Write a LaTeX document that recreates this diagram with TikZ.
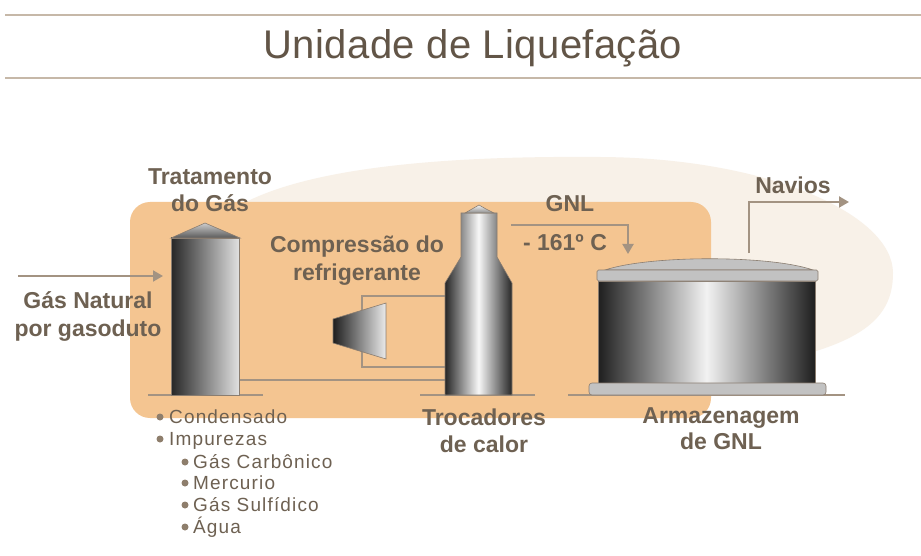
\documentclass[tikz,border=0pt]{standalone}
\usepackage{fontspec}
\setmainfont{Liberation Sans}
\usetikzlibrary{arrows.meta}

\definecolor{txt}{HTML}{6E6152}
\definecolor{titletxt}{HTML}{625547}
\definecolor{rule}{HTML}{C6B8A8}
\definecolor{pipe}{HTML}{A39382}
\definecolor{peach}{HTML}{F4C591}
\definecolor{cream}{HTML}{F8F1E8}
\definecolor{dot}{HTML}{8E7E6C}
\definecolor{rim}{HTML}{8A7D70}
\definecolor{steel}{HTML}{C2C2C2}

\begin{document}
\begin{tikzpicture}[x=1pt,y=-1pt,
  lbl/.style={inner sep=0pt, anchor=base, text=txt,
    font=\bfseries\fontsize{23}{28}\selectfont},
  item/.style={inner sep=0pt, anchor=base west, text=txt,
    font=\addfontfeature{LetterSpace=6}\fontsize{19}{22}\selectfont},
  bullet/.style={circle, fill=dot, inner sep=0pt, minimum size=7pt},
  flow/.style={draw=pipe, line width=2pt,
    -{Triangle[length=10pt,width=11pt]}},
  pipeline/.style={draw=pipe, line width=1.2pt},
  groundline/.style={draw=pipe, line width=1.5pt},
  metal/.style={draw=rim, line width=0.6pt}]

% page and background
\useasboundingbox (0,0) rectangle (921,556);
\fill[white] (0,0) rectangle (921,556);

% title with rules
\draw[rule, line width=2pt] (5,15) -- (921,15);
\draw[rule, line width=2pt] (5,78) -- (921,78);
\node[inner sep=0pt, anchor=base, text=titletxt,
  font=\addfontfeature{LetterSpace=1}\fontsize{40}{44}\selectfont]
  (title) at (473,59) {Unidade de Liquefação};

% cream backdrop
\fill[cream] (893,273) .. controls (893,215) and (770,158) .. (600,157)
  .. controls (480,156) and (330,162) .. (250,200)
  -- (200,230) -- (200,400) -- (700,400) -- (760,365)
  .. controls (860,345) and (893,320) .. (893,273) -- cycle;

% plant area
\fill[peach, rounded corners=20pt] (130,202) rectangle (711,418);

% ground lines
\draw[groundline] (148,395) -- (263,395);
\draw[groundline] (420,395) -- (535,395);
\draw[groundline] (568,395) -- (845,395);

% piping
\coordinate (ttR) at (239,380);
\coordinate (hxL) at (446,380);
\draw[pipeline] (ttR) -- (hxL);
\coordinate (loopA) at (446,296);
\coordinate (loopB) at (362,296);
\coordinate (loopC) at (362,367);
\coordinate (loopD) at (446,367);
\draw[pipeline] (loopA) -- (loopB) -- (loopC) -- (loopD);

% gas treatment column
\shade[left color=black!85, right color=black!12, metal]
  (171,238) rectangle (239,395);
\shade[top color=black!20, bottom color=black!65, metal]
  (171,238) -- (205,223) -- (240,238) -- cycle;

% refrigerant compressor
\shade[left color=black!88, right color=black!8, metal]
  (333,319) -- (386,303) -- (386,359) -- (333,343) -- cycle;

% heat exchangers
\shade[left color=black!85, right color=black!85, middle color=black!3, metal]
  (461,213) -- (497,213) -- (497,257) -- (512,283) -- (512,395)
  -- (445,395) -- (445,283) -- (461,257) -- cycle;
\shade[top color=black!5, bottom color=black!45, metal]
  (465,213) -- (472,209) -- (479,205) -- (486,209) -- (494,213) -- cycle;

% LNG storage tank
\shade[left color=black!88, right color=black!88, middle color=black!5]
  (598,281) rectangle (815,383);
\draw[rim, line width=1pt] (598,281) rectangle (815,383);
\fill[steel, metal] (605,270) .. controls (650,255) and (770,255) .. (813,270) -- cycle;
\fill[steel, metal, rounded corners=1.5pt] (597,270) rectangle (818,281);
\fill[steel, metal, rounded corners=3pt] (589,383) rectangle (826,395);

% flows
\coordinate (inS) at (18,276);
\coordinate (inE) at (163,276);
\draw[flow] (inS) -- (inE);
\coordinate (lngS) at (511,225);
\coordinate (lngK) at (628,225);
\coordinate (lngE) at (628,254);
\draw[flow] (lngS) -- (lngK) -- (lngE);
\coordinate (shipS) at (749,253);
\coordinate (shipK) at (749,202);
\coordinate (shipE) at (849,202);
\draw[flow] (shipS) -- (shipK) -- (shipE);

% labels
\node[lbl] (trat1) at (210,185) {Tratamento};
\node[lbl] (trat2) at (210,212) {do Gás};
\node[lbl] (comp1) at (357,252) {Compressão do};
\node[lbl] (comp2) at (357,280) {refrigerante};
\node[lbl] (gas1) at (88,308) {Gás Natural};
\node[lbl] (gas2) at (88,336) {por gasoduto};
\node[lbl] (gnl1) at (570,212) {GNL};
\node[lbl] (gnl2) at (565,251) {- 161º C};
\node[lbl] (nav) at (793,194) {Navios};
\node[lbl] (troc1) at (484,425) {Trocadores};
\node[lbl] (troc2) at (484,452) {de calor};
\node[lbl] (arm1) at (721,423) {Armazenagem};
\node[lbl] (arm2) at (721,449) {de GNL};

% removed by treatment
\node[bullet] (b1) at (160,417) {};
\node[item] (i1) at (169,423) {Condensado};
\node[bullet] (b2) at (160,439) {};
\node[item] (i2) at (169,445) {Impurezas};
\node[bullet] (b3) at (185,462) {};
\node[item] (i3) at (193,468) {Gás Carbônico};
\node[bullet] (b4) at (185,483) {};
\node[item] (i4) at (193,489) {Mercurio};
\node[bullet] (b5) at (185,505) {};
\node[item] (i5) at (193,511) {Gás Sulfídico};
\node[bullet] (b6) at (185,527) {};
\node[item] (i6) at (193,533) {Água};
\end{tikzpicture}
\end{document}
